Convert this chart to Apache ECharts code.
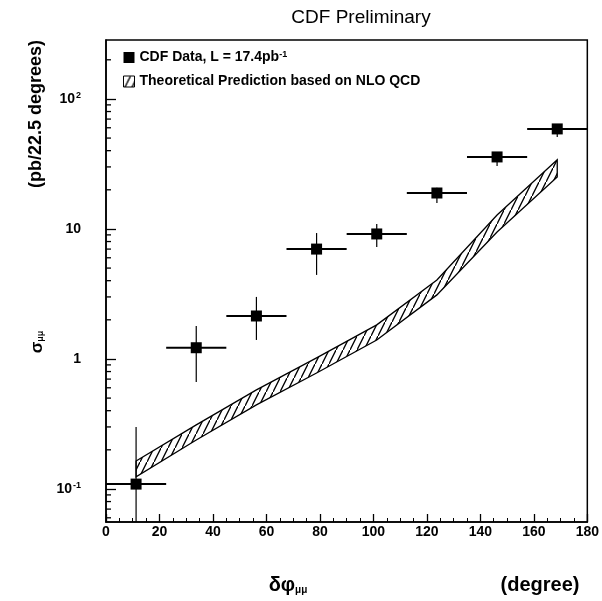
<!DOCTYPE html>
<html>
<head>
<meta charset="utf-8">
<script src="https://cdn.jsdelivr.net/npm/echarts@6/dist/echarts.min.js"></script>
<style>
  html, body { margin: 0; padding: 0; background: #fff; }
  #chart { width: 602px; height: 601px; }
</style>
</head>
<body>
<div id="chart"></div>
<script>
// Azimuthal opening angle bins (22.5 degrees wide), bin centres in degrees
const binCenters = [11.25, 33.75, 56.25, 78.75, 101.25, 123.75, 146.25, 168.75];
const binHalfWidth = 11.25;

// Measured cross section per bin (pb / 22.5 degrees) with error range
const sigmaData = [0.109, 1.22, 2.14, 7.0, 9.15, 18.9, 35.8, 58.8];
const sigmaLow  = [0.03, 0.665, 1.40, 4.43, 7.27, 15.8, 30.5, 51.0];
const sigmaHigh = [0.30, 1.79, 3.00, 9.3, 10.9, 20.7, 38.4, 63.0];

// NLO QCD prediction band (lower / upper edge)
const nloLow  = [0.124, 0.238, 0.443, 0.780, 1.40, 3.11, 9.48, 25.1];
const nloHigh = [0.164, 0.311, 0.578, 1.02, 1.83, 4.05, 12.8, 34.0];

// Axis ranges and labelled decades
const xRange = [0, 180];
const xStep = 20;
const yRange = [0.0557, 284];
const yDecades = [0.01, 0.1, 1, 10, 100];
const yDecadeLabels = { '-1': '10{sup|-1}', '0': '1', '1': '10', '2': '10{sup|2}' };

const FONT = 'Liberation Sans, Arial, sans-serif';

// Diagonal hatching used for the prediction band
function hatchPattern() {
  const c = document.createElement('canvas');
  c.width = 7; c.height = 14;
  const g = c.getContext('2d');
  g.strokeStyle = '#000';
  g.lineWidth = 1.3;
  g.beginPath();
  g.moveTo(-1, 16);
  g.lineTo(8, -2);
  g.stroke();
  return { image: c, repeat: 'repeat' };
}
const hatch = hatchPattern();

// Minor tick values 2..9 of every decade inside the y range
const yMinorTicks = [];
yDecades.forEach(d => {
  for (let m = 2; m <= 9; m++) {
    const v = m * d;
    if (v > yRange[0] && v < yRange[1]) yMinorTicks.push([0, v]);
  }
});

const dataName = 'CDF Data, L = 17.4pb⁻¹';
const nloName = 'Theoretical Prediction based on NLO QCD';

const chart = echarts.init(document.getElementById('chart'), null, { renderer: 'canvas' });

chart.setOption({
  animation: false,
  backgroundColor: '#fff',
  title: {
    text: 'CDF Preliminary',
    left: 356,
    textAlign: 'center',
    top: 3,
    textStyle: { fontFamily: FONT, fontSize: 19, fontWeight: 'normal', color: '#000' }
  },
  legend: {
    orient: 'vertical',
    left: 118,
    top: 45,
    itemGap: 10,
    itemWidth: 11,
    itemHeight: 11,
    selectedMode: false,
    textStyle: {
      fontFamily: FONT, fontSize: 14, fontWeight: 'bold', color: '#000',
      rich: {
        t: { fontFamily: FONT, fontSize: 14, fontWeight: 'bold', color: '#000' },
        sup: { fontFamily: FONT, fontSize: 9, fontWeight: 'bold', color: '#000', verticalAlign: 'top', padding: [0, 0, 6, 0] }
      }
    },
    formatter: name => name === dataName ? '{t|CDF Data, L = 17.4pb}{sup|-1}' : '{t|' + name + '}',
    data: [
      { name: dataName, icon: 'rect', itemStyle: { color: '#000', opacity: 1 } },
      { name: nloName, icon: 'rect', itemStyle: { color: hatch, borderColor: '#000', borderWidth: 1 } }
    ]
  },
  grid: {
    left: 106, right: 11, top: 40, bottom: 79,
    show: true, borderColor: '#000', borderWidth: 1.5, backgroundColor: '#fff'
  },
  xAxis: {
    type: 'value',
    min: xRange[0], max: xRange[1], interval: xStep,
    axisLine: { lineStyle: { color: '#000', width: 1.5 } },
    axisTick: { inside: true, length: 8, lineStyle: { color: '#000', width: 1.3 } },
    minorTick: { show: true, splitNumber: 4, length: 4, lineStyle: { color: '#000', width: 1 } },
    splitLine: { show: false },
    axisLabel: { margin: 3, color: '#000', fontFamily: FONT, fontSize: 14, fontWeight: 'bold' }
  },
  yAxis: {
    type: 'log',
    logBase: 10,
    min: yRange[0], max: yRange[1],
    axisLine: { lineStyle: { color: '#000', width: 1.5 } },
    axisTick: { inside: true, length: 10, lineStyle: { color: '#000', width: 1.3 } },
    splitLine: { show: false },
    axisLabel: {
      margin: 25, color: '#000', fontFamily: FONT, fontSize: 14, fontWeight: 'bold',
      showMinLabel: false, showMaxLabel: false,
      formatter: v => {
        const e = Math.round(Math.log10(v));
        if (Math.abs(Math.log10(v) - e) > 1e-6) return '';
        return yDecadeLabels[String(e)] || '';
      },
      rich: {
        sup: { fontFamily: FONT, fontSize: 9, fontWeight: 'bold', color: '#000', verticalAlign: 'top', padding: [0, 0, 7, 1] }
      }
    }
  },
  graphic: [
    {
      // y-axis unit, reading upwards, ending at the top of the frame
      type: 'text', x: 36, y: 40, rotation: Math.PI / 2,
      style: { text: '(pb/22.5 degrees)', font: 'bold 18px ' + FONT, fill: '#000', textAlign: 'right', textVerticalAlign: 'middle' }
    },
    {
      type: 'text', x: 37, y: 342, rotation: Math.PI / 2,
      style: {
        text: '{s|σ}{sub|μμ}', textAlign: 'center', textVerticalAlign: 'middle',
        rich: {
          s: { font: 'bold 17px ' + FONT, fill: '#000' },
          sub: { font: 'bold 9px ' + FONT, fill: '#000', verticalAlign: 'bottom' }
        }
      }
    },
    {
      type: 'text', x: 288, y: 585,
      style: {
        text: '{s|δφ}{sub|μμ}', textAlign: 'center', textVerticalAlign: 'middle',
        rich: {
          s: { font: 'bold 20px ' + FONT, fill: '#000' },
          sub: { font: 'bold 10px ' + FONT, fill: '#000', verticalAlign: 'bottom' }
        }
      }
    },
    {
      type: 'text', x: 540, y: 585,
      style: { text: '(degree)', font: 'bold 20px ' + FONT, fill: '#000', textAlign: 'center', textVerticalAlign: 'middle' }
    }
  ],
  series: [
    {
      // NLO QCD band drawn as one hatched polygon through the axis scales
      name: nloName,
      type: 'custom',
      clip: true,
      data: [[binCenters[0], nloLow[0]]],
      renderItem: (params, api) => {
        const upper = binCenters.map((x, i) => api.coord([x, nloHigh[i]]));
        const lower = binCenters.map((x, i) => api.coord([x, nloLow[i]])).reverse();
        return {
          type: 'polygon',
          shape: { points: upper.concat(lower) },
          style: { fill: hatch, stroke: '#000', lineWidth: 1.3 }
        };
      },
      z: 2
    },
    {
      // Error bars: bin width horizontally, measurement error vertically
      name: dataName,
      type: 'custom',
      clip: true,
      data: binCenters.map((x, i) => [x, sigmaData[i], sigmaLow[i], sigmaHigh[i]]),
      encode: { x: 0, y: 1 },
      renderItem: (params, api) => {
        const x = api.value(0), y = api.value(1);
        const left = api.coord([x - binHalfWidth, y]);
        const right = api.coord([x + binHalfWidth, y]);
        const lo = api.coord([x, api.value(2)]);
        const hi = api.coord([x, api.value(3)]);
        return {
          type: 'group',
          children: [
            { type: 'line', shape: { x1: left[0], y1: left[1], x2: right[0], y2: right[1] }, style: { stroke: '#000', lineWidth: 2 } },
            { type: 'line', shape: { x1: lo[0], y1: lo[1], x2: hi[0], y2: hi[1] }, style: { stroke: '#000', lineWidth: 1.2 } }
          ]
        };
      },
      z: 3
    },
    {
      name: dataName,
      type: 'scatter',
      symbol: 'rect',
      symbolSize: 11,
      itemStyle: { color: '#000', opacity: 1 },
      data: binCenters.map((x, i) => [x, sigmaData[i]]),
      z: 4
    },
    {
      // Minor ticks of the logarithmic axis
      type: 'custom',
      silent: true,
      clip: false,
      data: yMinorTicks,
      encode: { x: 0, y: 1 },
      renderItem: (params, api) => {
        const p = api.coord([xRange[0], api.value(1)]);
        return {
          type: 'line',
          shape: { x1: p[0], y1: p[1], x2: p[0] + 5, y2: p[1] },
          style: { stroke: '#000', lineWidth: 1.3 }
        };
      },
      z: 5
    }
  ]
});
</script>
</body>
</html>
